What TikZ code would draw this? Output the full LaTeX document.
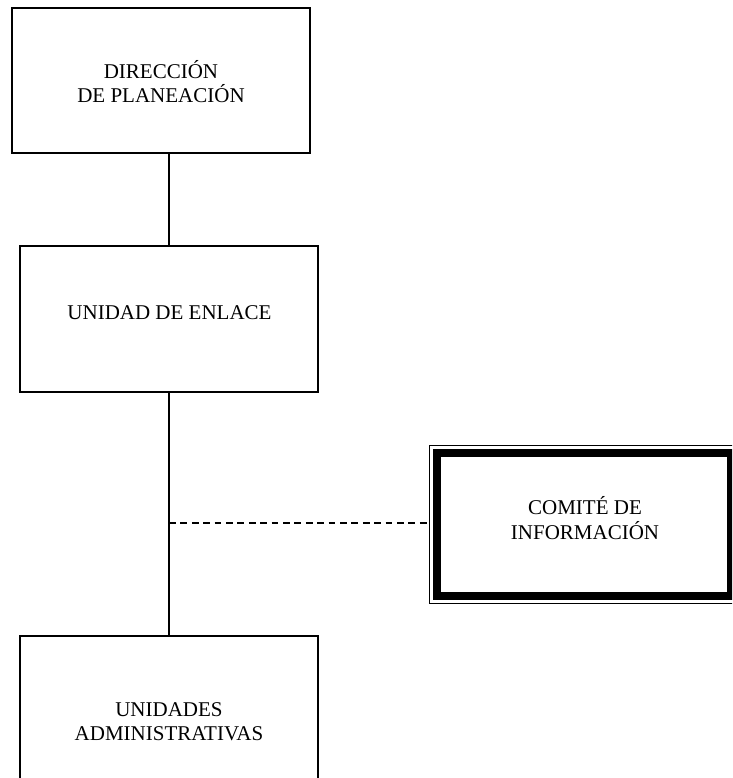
\documentclass[tikz,border=0pt]{standalone}
\usepackage{fontspec}
\setmainfont{Liberation Serif}
\begin{document}
\begin{tikzpicture}[x=1pt,y=-1pt,
  orgbox/.style={draw=black,line width=1.5pt,rectangle,inner sep=0pt},
  thinframe/.style={draw=black,line width=1pt,rectangle,inner sep=0pt,minimum width=309pt,minimum height=158pt},
  thickframe/.style={draw=black,line width=8pt,rectangle,inner sep=0pt,minimum width=294pt,minimum height=143pt},
  lbl/.style={font=\fontsize{21}{24.5}\selectfont,align=center,inner sep=0pt,anchor=base},
  conn/.style={draw=black,line width=1.3pt},
  dashconn/.style={draw=black,line width=1.3pt,dash pattern=on 6.7pt off 4.7pt}]
\clip (0,0) rectangle (732,778);
\fill[white] (0,0) rectangle (732,778);
% boxes
\node[orgbox,minimum width=298pt,minimum height=145pt] (dir) at (161,80.5) {};
\node[orgbox,minimum width=298pt,minimum height=146pt] (une) at (169,319) {};
\node[orgbox,minimum width=298pt,minimum height=200pt] (uad) at (169,736) {};
\node[thinframe] (com) at (584,524.5) {};
\node[thickframe] (comi) at (com.center) {};
% labels (base anchor = baseline of last line)
\node[lbl] (tdir) at (161,103) {DIRECCIÓN\\DE PLANEACIÓN};
\node[lbl] (tune) at (169.5,319) {UNIDAD DE ENLACE};
\node[lbl] (tcom) at (585,539) {COMITÉ DE\\INFORMACIÓN};
\node[lbl] (tuad) at (169,740.5) {UNIDADES\\ADMINISTRATIVAS};
% connectors
\draw[conn] (dir.south -| une.north) -- (une.north);
\draw[conn] (une.south) -- (uad.north);
\coordinate (j) at (169,523);
\draw[dashconn] (j) -- (j -| com.west);
\end{tikzpicture}
\end{document}
